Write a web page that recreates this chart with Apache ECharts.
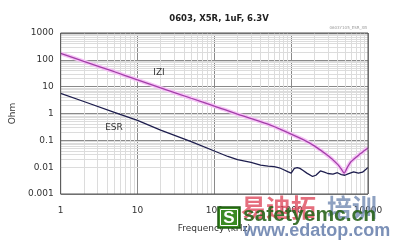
<!DOCTYPE html>
<html>
<head>
<meta charset="utf-8">
<script src="https://cdn.jsdelivr.net/npm/echarts@6/dist/echarts.min.js"></script>
<style>html,body{margin:0;padding:0;background:#fff;}#c{width:395px;height:243px;}</style>
</head>
<body>
<div id="c"></div>
<script>
// Frequency in kHz, impedance in Ohm
const freqZ = [1,2,5,10,20,50,100,200,500,1000,1500,2000,3000,4000,4500,4900,5300,6000,8000,10000];
const zVals = [175,88,36,18,9,3.7,1.9,0.95,0.4,0.17,0.1,0.062,0.027,0.013,0.0085,0.006,0.009,0.016,0.032,0.052];
const freqESR = [1,2,5,10,20,50,100,150,200,300,400,500,600,700,800,900,1000,1100,1200,1300,1400,1600,1900,2100,2400,2700,3000,3500,4000,4500,5000,5500,6500,7500,8500,9500,10000];
const esrVals = [5.6,2.8,1.1,0.55,0.24,0.09,0.04,0.025,0.019,0.015,0.012,0.011,0.0105,0.0095,0.008,0.0068,0.006,0.009,0.0097,0.009,0.0078,0.006,0.0045,0.005,0.0072,0.0065,0.0058,0.0055,0.0062,0.0053,0.005,0.0056,0.0067,0.006,0.0065,0.0085,0.0097];
const xTicks = [1,10,100,1000,10000];
const yTicks = [0.001,0.01,0.1,1,10,100,1000];

const minorX = [], minorY = [];
for (let i = 0; i < xTicks.length - 1; i++) for (let k = 2; k <= 9; k++) minorX.push({xAxis: xTicks[i]*k});
for (let i = 0; i < yTicks.length - 1; i++) for (let k = 2; k <= 9; k++) minorY.push({yAxis: +(yTicks[i]*k).toPrecision(3)});

const chart = echarts.init(document.getElementById('c'), null, {renderer:'canvas'});
const font = 'DejaVu Sans';
chart.setOption({
  animation: false,
  backgroundColor: '#fff',
  title: {
    text: '0603, X5R, 1uF, 6.3V', left: 214, top: 9, textAlign: 'center',
    textStyle: {fontFamily: font, fontWeight: 'bold', fontSize: 8.5, color: '#222'}
  },
  grid: {left: 57, right: 27, top: 33, bottom: 49, show: true, borderColor: '#555', borderWidth: 1, z: 10},
  xAxis: {
    type: 'log', logBase: 10, min: 1, max: 10000,
    name: 'Frequency (kHz)', nameLocation: 'middle', nameGap: 30,
    nameTextStyle: {fontFamily: font, fontSize: 9, color: '#333'},
    axisLine: {show: false}, axisTick: {show: false},
    axisLabel: {fontFamily: font, fontSize: 9, color: '#333', margin: 12,
      formatter: v => String(v)},
    splitLine: {show: true, lineStyle: {color: '#8a8a8a', width: 1}}
  },
  yAxis: {
    type: 'log', logBase: 10, min: 0.001, max: 1000,
    name: 'Ohm', nameLocation: 'middle', nameGap: 36,
    nameTextStyle: {fontFamily: font, fontSize: 9, color: '#333'},
    axisLine: {show: false}, axisTick: {show: false},
    axisLabel: {fontFamily: font, fontSize: 9, color: '#333', margin: 7,
      formatter: v => String(v)},
    splitLine: {show: true, lineStyle: {color: '#8a8a8a', width: 1}}
  },
  series: [
    {
      type: 'line', data: [], z: 0, zlevel: 0, silent: true,
      markLine: {
        z: 0, silent: true, symbol: 'none', label: {show: false},
        lineStyle: {color: '#dcdcdc', width: 1, type: 'solid'},
        emphasis: {disabled: true},
        data: minorX.concat(minorY)
      }
    },
    {
      name: 'halo', type: 'line', data: freqZ.map((f,i)=>[f, zVals[i]]),
      showSymbol: false, smooth: 0.3, z: 6, silent: true,
      lineStyle: {color: '#f6c4f6', width: 4}
    },
    {
      name: '|Z|', type: 'line', data: freqZ.map((f,i)=>[f, zVals[i]]),
      showSymbol: false, smooth: 0.3, z: 7,
      lineStyle: {color: '#a23fa8', width: 1.3}
    },
    {
      name: 'ESR', type: 'line', data: freqESR.map((f,i)=>[f, esrVals[i]]),
      showSymbol: false, z: 8,
      lineStyle: {color: '#1e1e4e', width: 1.3}
    }
  ],
  graphic: [
    {type:'text', z: 50, x: 367, y: 26, style:{text:'0603Y105_ESR_XB', fill:'#9a9a9a', font:'4px DejaVu Sans', align:'right'}},
    {type:'text', z: 50, x: 159, y: 73, style:{text:'IZI', fill:'#333', font:'9px DejaVu Sans', align:'center', verticalAlign:'middle'}},
    {type:'text', z: 50, x: 114, y: 128, style:{text:'ESR', fill:'#333', font:'9px DejaVu Sans', align:'center', verticalAlign:'middle'}},
    // watermark
    {type:'group', z: 100, children: [
      {type:'text', z: 100, x: 241, y: 207, style:{text:'易迪拓', fill:'rgba(222,70,90,0.78)', font:'bold 25px "Noto Sans CJK SC"', verticalAlign:'middle'}},
      {type:'text', z: 100, x: 327, y: 207, style:{text:'培训', fill:'rgba(110,135,175,0.78)', font:'bold 25px "Noto Sans CJK SC"', verticalAlign:'middle'}},
      {type:'text', z: 101, x: 243, y: 215, style:{text:'safetyemc.cn', fill:'rgba(40,100,25,0.9)', font:'bold 21px "Liberation Sans"', verticalAlign:'middle'}},
      {type:'text', z: 101, x: 243, y: 231, style:{text:'www.edatop.com', fill:'rgba(100,125,170,0.85)', font:'bold 18px "Liberation Sans"', verticalAlign:'middle'}},
      {type:'rect', z: 102, shape:{x:218, y:207, width:22, height:21}, style:{fill:'#3a8a22', stroke:'#1e5a10', lineWidth:1.5}},
      {type:'rect', z: 103, shape:{x:220.5, y:209.5, width:17, height:16}, style:{fill:'none', stroke:'#ffffff', lineWidth:1}},
      {type:'text', z: 104, x: 229, y: 218, style:{text:'S', fill:'#fff', font:'bold 17px "Liberation Sans"', align:'center', verticalAlign:'middle'}}
    ]}
  ]
});
</script>
</body>
</html>
